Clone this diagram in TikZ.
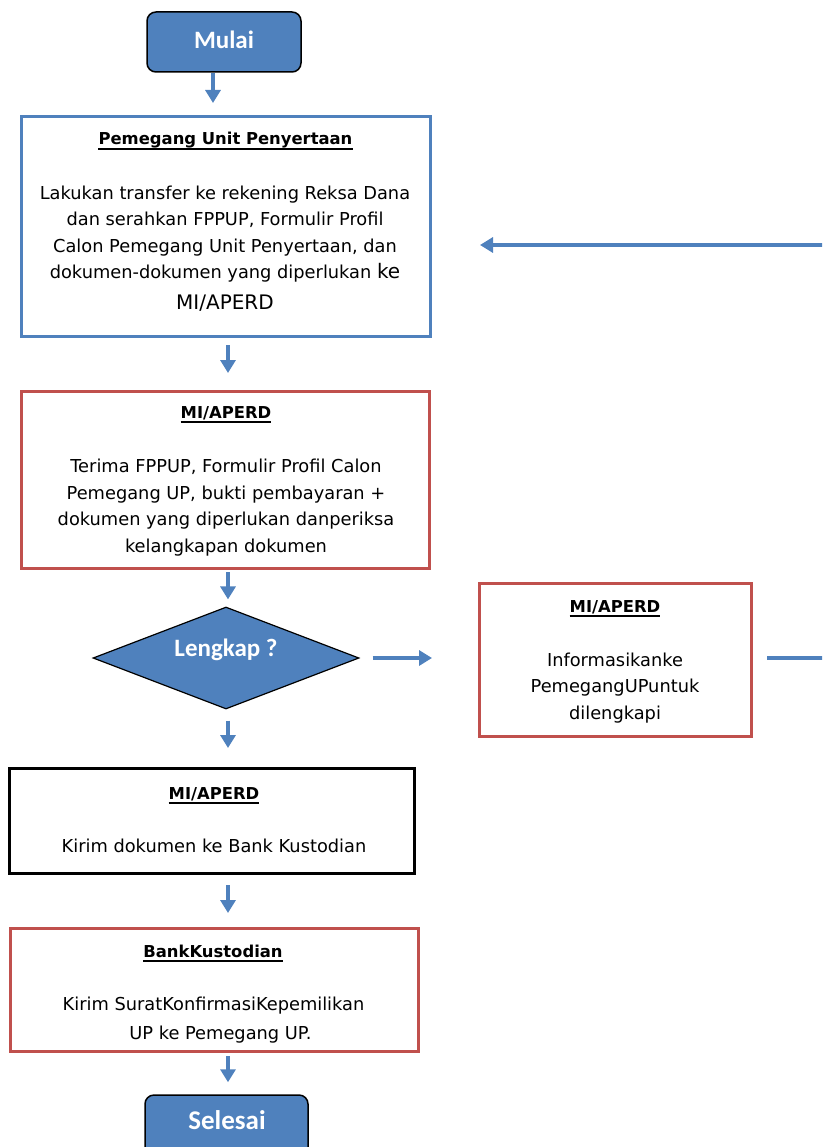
\documentclass[tikz,border=0pt]{standalone}
\usepackage{fontspec}
\setmainfont{DejaVu Sans}
\newfontfamily\labfont{Carlito}
\usetikzlibrary{shapes.geometric,arrows.meta}
\definecolor{fblue}{RGB}{79,129,189}
\definecolor{fred}{RGB}{192,80,77}
\tikzset{
  boxbase/.style={draw, line width=3pt, rectangle, inner sep=0pt, fill=white},
  bluebox/.style={boxbase, draw=fblue},
  redbox/.style={boxbase, draw=fred},
  blackbox/.style={boxbase, draw=black},
  term/.style={draw=black, line width=1.5pt, fill=fblue, rounded corners=9pt, inner sep=0pt},
  decis/.style={draw=black, line width=1.2pt, fill=fblue, diamond, inner sep=0pt, aspect=2.6},
  labtxt/.style={text=white, font=\labfont\bfseries\fontsize{25}{30}\selectfont, inner sep=0pt},
  ttl/.style={font=\bfseries\fontsize{16.4}{20}\selectfont, inner sep=0pt, anchor=base},
  body/.style={font=\fontsize{17.8}{26.5}\selectfont, align=center, inner sep=0pt, anchor=base},
  uline/.style={line width=1.5pt},
  arr/.style={draw=fblue, line width=3.5pt, -{Triangle[width=15pt,length=13pt]}},
  conn/.style={draw=fblue, line width=3.5pt},
}
\begin{document}
\begin{tikzpicture}[x=1pt,y=-1pt]
\useasboundingbox (0,0) rectangle (822,1147);
\clip (0,0) rectangle (822,1147);
% terminals
\node[term, minimum width=154pt, minimum height=60pt] (mulai) at (224,42) {};
\node[labtxt] (mulait) at (224,40) {Mulai};
\node[term, minimum width=163pt, minimum height=66pt] (selesai) at (226.5,1128) {};
\node[labtxt, font=\labfont\bfseries\fontsize{27}{30}\selectfont] (selesait) at (227,1120) {Selesai};
% boxes
\node[bluebox, minimum width=409pt, minimum height=220pt] (b1) at (226,226.5) {};
\node[redbox, minimum width=408pt, minimum height=177pt] (b2) at (225.5,480) {};
\node[redbox, minimum width=272pt, minimum height=153pt] (b3) at (615.5,660) {};
\node[blackbox, minimum width=405pt, minimum height=105pt] (b4) at (212,821) {};
\node[redbox, minimum width=408pt, minimum height=123pt] (b5) at (214.5,990) {};
% decision
\node[decis, minimum width=266pt, minimum height=102pt] (d) at (226,658) {};
\node[labtxt] (dt) at (226,650) {Lengkap ?};
% titles
\node[ttl] (t1) at (225.5,145) {Pemegang Unit Penyertaan};
\node[ttl] (t2) at (226,418) {MI/APERD};
\node[ttl] (t3) at (615,612) {MI/APERD};
\node[ttl] (t4) at (214,799) {MI/APERD};
\node[ttl] (t5) at (213,957) {BankKustodian};
\foreach \t in {t1,t2,t3,t4,t5}
  \draw[uline] ([yshift=-4pt]\t.base west) -- ([yshift=-4pt]\t.base east);
% bodies (base anchor = baseline of last line)
\node[body] (x1) at (225,309) {Lakukan transfer ke rekening Reksa Dana\\dan serahkan FPPUP, Formulir Profil\\Calon Pemegang Unit Penyertaan, dan\\dokumen-dokumen yang diperlukan {\fontsize{20}{26}\selectfont ke}\\[4pt]{\fontsize{20}{26}\selectfont MI/APERD}};
\node[body] (x2) at (226,552) {Terima FPPUP, Formulir Profil Calon\\Pemegang UP, bukti pembayaran +\\dokumen yang diperlukan danperiksa\\kelangkapan dokumen};
\node[body] (x3) at (615,719) {Informasikanke\\PemegangUPuntuk\\dilengkapi};
\node[body] (x4) at (214,852) {Kirim dokumen ke Bank Kustodian};
\node[body, font=\fontsize{17.8}{29}\selectfont] (x5) at (213.5,1039) {Kirim SuratKonfirmasiKepemilikan\\\hspace*{14pt}UP ke Pemegang UP.};
% arrows
\draw[arr, shorten >=12pt] (mulai.south -| 213,0) -- (b1.north -| 213,0);
\draw[arr, shorten <=7pt, shorten >=17pt] (b1.south -| 228,0) -- (b2.north -| 228,0);
\draw[arr, shorten <=2pt, shorten >=7pt] (b2.south -| 228,0) -- (d.north -| 228,0);
\draw[arr, shorten <=11pt, shorten >=19pt] (d.south -| 228,0) -- (b4.north -| 228,0);
\draw[arr, shorten <=10pt, shorten >=14pt] (b4.south -| 228,0) -- (b5.north -| 228,0);
\draw[arr, shorten <=3pt, shorten >=12pt] (b5.south -| 228,0) -- (selesai.north -| 228,0);
\draw[arr, shorten <=13pt, shorten >=46pt] (d.east) -- (b3.west |- d.east);
% return connector
\coordinate (r1) at (840,658);
\coordinate (r2) at (840,245);
\coordinate (rtip) at (480,245);
\draw[conn] ([xshift=14pt]b3.east |- r1) -- (r1) -- (r2);
\draw[arr] (r2) -- (rtip);
\end{tikzpicture}
\end{document}
